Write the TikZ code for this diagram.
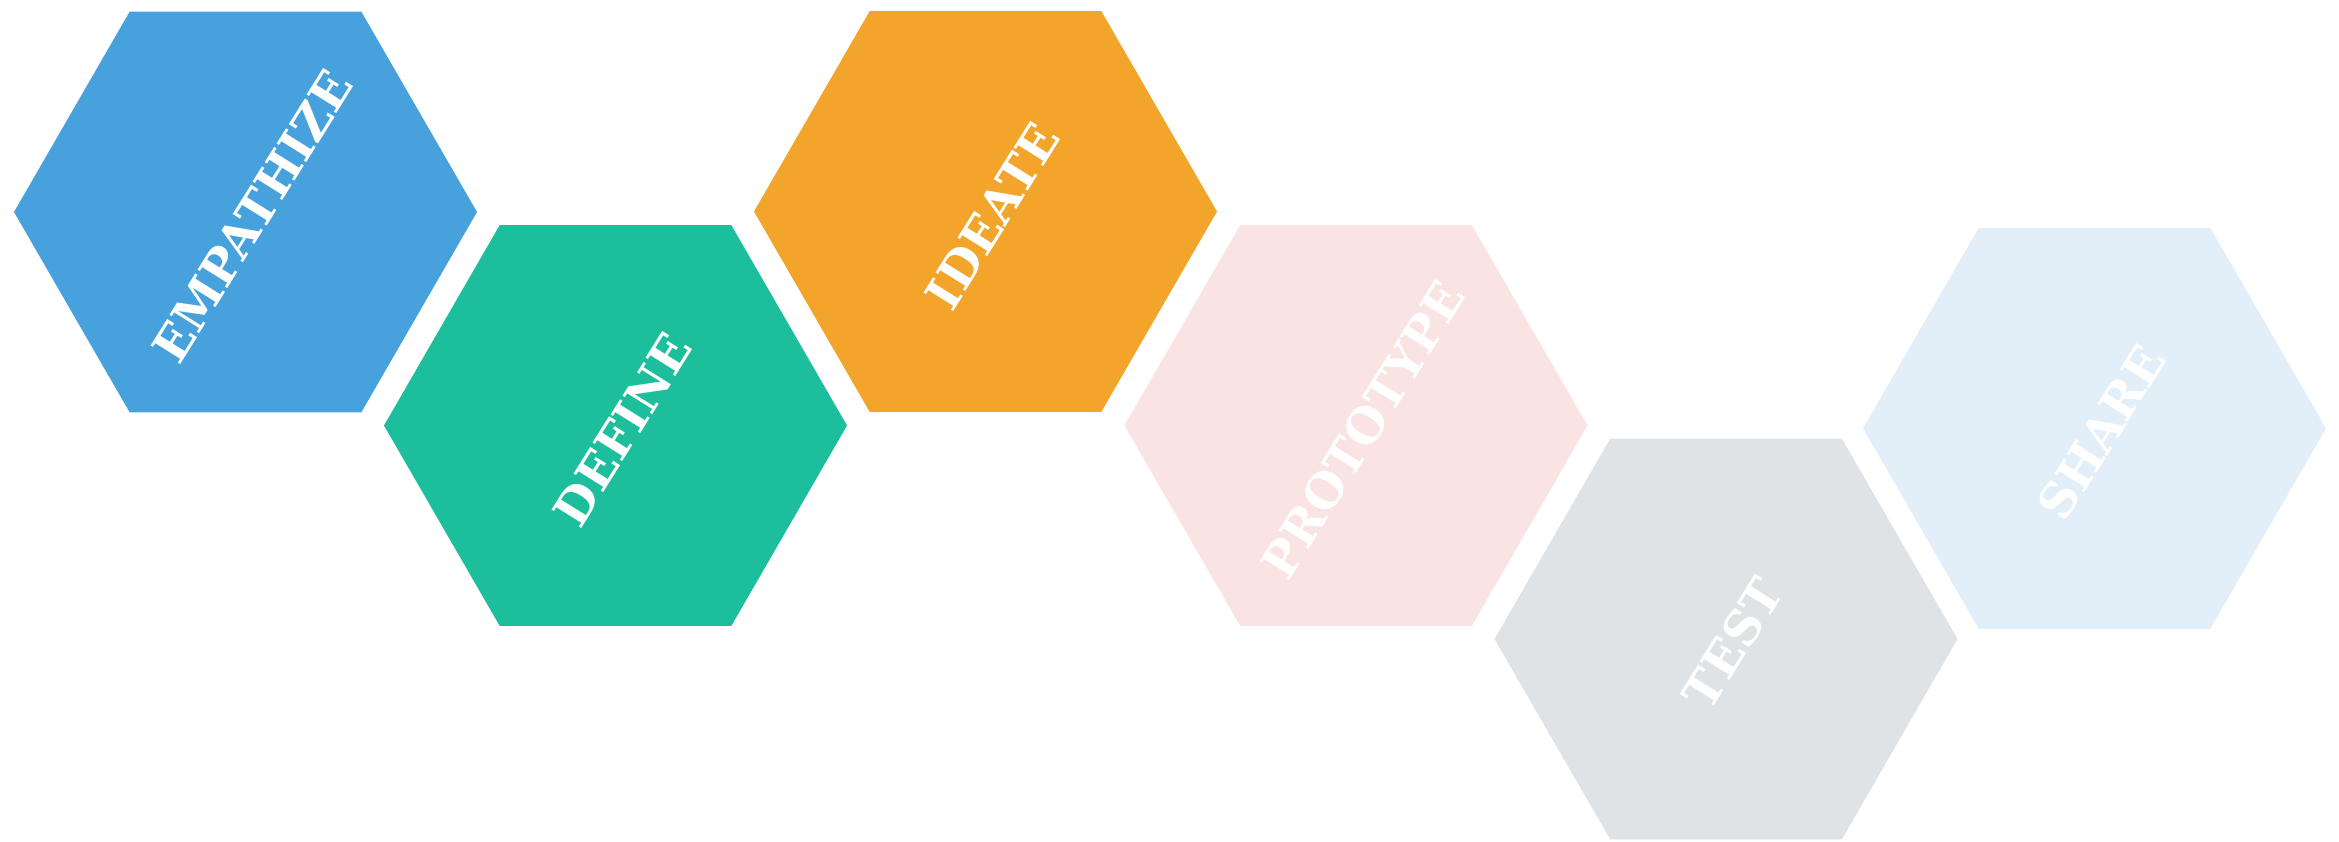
\documentclass[tikz,border=0pt]{standalone}
\usepackage{fontspec}
\newfontfamily\labfont{DejaVu Serif}
\usetikzlibrary{shapes.geometric}
\definecolor{cBlue}{HTML}{47A1DD}
\definecolor{cGreen}{HTML}{1DBE9C}
\definecolor{cOrange}{HTML}{F2A52A}
\definecolor{cPink}{HTML}{FAE3E3}
\definecolor{cGray}{HTML}{DFE3E6}
\definecolor{cLight}{HTML}{E2EFF8}
\tikzset{
  hexa/.style={regular polygon, regular polygon sides=6, minimum size=231.5pt,
    inner sep=0pt, outer sep=0pt, draw=none, fill=#1},
  hexlabel/.style={text=white, rotate=58, inner sep=0pt,
    font=\labfont\bfseries\fontsize{24}{24}\selectfont}
}
\begin{document}
\begin{tikzpicture}[x=0.5pt,y=0.5pt]
\useasboundingbox (0,0) rectangle (2339,-841);
\node[hexa=cBlue]   (h1) at (245.5,-212) {};
\node[hexa=cGreen]  (h2) at (615.5,-425.5) {};
\node[hexa=cOrange] (h3) at (985.5,-211.5) {};
\node[hexa=cPink]   (h4) at (1356,-425.5) {};
\node[hexa=cGray]   (h5) at (1726,-639) {};
\node[hexa=cLight]  (h6) at (2094.5,-428.3) {};
\node[hexlabel] (t1) at ([shift={(-32:4pt)}]h1.center) {EMPATHIZE};
\node[hexlabel] (t2) at ([shift={(-32:4pt)}]h2.center) {DEFINE};
\node[hexlabel] (t3) at ([shift={(-32:4pt)}]h3.center) {IDEATE};
\node[hexlabel] (t4) at ([shift={(-32:4pt)}]h4.center) {PROTOTYPE};
\node[hexlabel] (t5) at ([shift={(-32:4pt)}]h5.center) {TEST};
\node[hexlabel] (t6) at ([shift={(-32:4pt)}]h6.center) {SHARE};
\end{tikzpicture}
\end{document}
